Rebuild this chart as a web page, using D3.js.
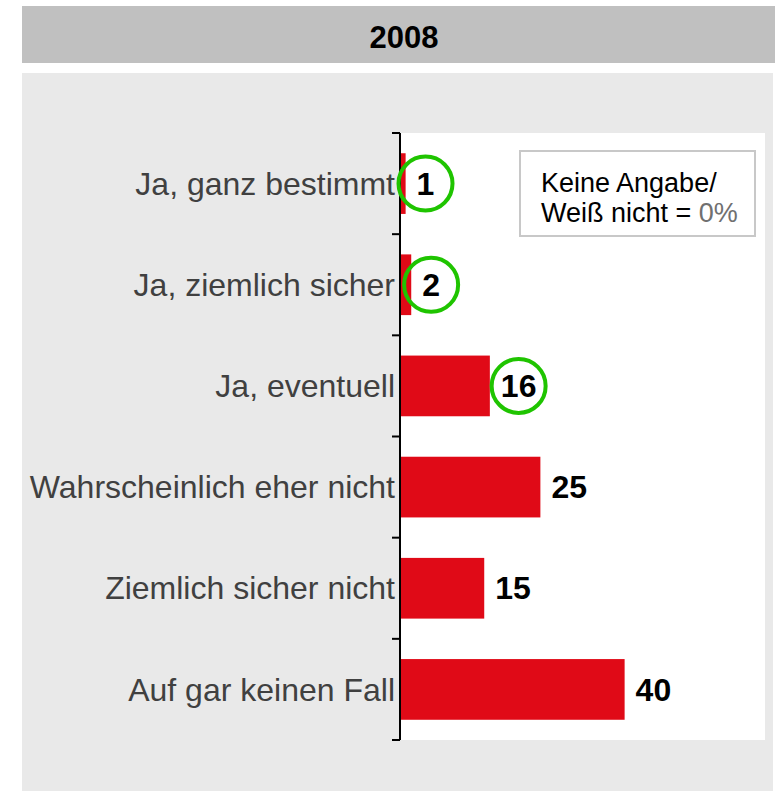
<!DOCTYPE html>
<html><head><meta charset="utf-8">
<script src="https://cdn.jsdelivr.net/npm/d3@7"></script>
<style>body{margin:0;background:#fff;}svg{display:block;font-family:"Liberation Sans",Arial,sans-serif;}</style>
</head><body>
<script>
const title = "2008";
const categories = ["Ja, ganz bestimmt","Ja, ziemlich sicher","Ja, eventuell","Wahrscheinlich eher nicht","Ziemlich sicher nicht","Auf gar keinen Fall"];
const values = [1, 2, 16, 25, 15, 40];
const highlighted = [true, true, true, false, false, false];
const legendLines = ["Keine Angabe/", "Weiß nicht = "];
const legendValue = "0%";

const W = 775, H = 791;
const svg = d3.select("body").append("svg").attr("width", W).attr("height", H);

// title bar
svg.append("rect").attr("x",22).attr("y",6).attr("width",W-22).attr("height",57).attr("fill","#c0c0c0");
svg.append("text").attr("x",404).attr("y",48).attr("text-anchor","middle")
  .attr("font-size",31).attr("font-weight","bold").attr("fill","#000").text(title);

// panel
svg.append("rect").attr("x",22).attr("y",73).attr("width",751).attr("height",718).attr("fill","#e9e9e9");

const plot = {x0:400, x1:765, y0:133, y1:740};
svg.append("rect").attr("x",plot.x0).attr("y",plot.y0).attr("width",plot.x1-plot.x0).attr("height",plot.y1-plot.y0).attr("fill","#fff");

const x = d3.scaleLinear().domain([0,65]).range([plot.x0, plot.x1]);
const y = d3.scaleBand().domain(categories).range([plot.y0, plot.y1]).paddingInner(0.4).paddingOuter(0.2);
const yb = d3.scaleBand().domain(categories).range([plot.y0, plot.y1]);

// bars
svg.selectAll("rect.bar").data(categories).enter().append("rect").attr("class","bar")
  .attr("x", x(0)).attr("y", d=>y(d)).attr("height", y.bandwidth())
  .attr("width", (d,i)=>x(values[i])-x(0)).attr("fill","#e00a17");

// axis line + boundary ticks
const ticks = categories.map(c=>yb(c)).concat([plot.y1]);
svg.append("line").attr("x1",plot.x0).attr("x2",plot.x0).attr("y1",plot.y0).attr("y2",plot.y1).attr("stroke","#000").attr("stroke-width",2);
svg.selectAll("line.tk").data(ticks).enter().append("line").attr("class","tk")
  .attr("x1",plot.x0-8).attr("x2",plot.x0).attr("y1",d=>d).attr("y2",d=>d).attr("stroke","#000").attr("stroke-width",2);

// category labels
svg.selectAll("text.cat").data(categories).enter().append("text").attr("class","cat")
  .attr("x", plot.x0-5).attr("y", d=>y(d)+y.bandwidth()/2).attr("dy","0.35em")
  .attr("text-anchor","end").attr("font-size",32).attr("fill","#404040").text(d=>d);

// value labels
const lab = svg.selectAll("g.val").data(categories).enter().append("g").attr("class","val");
lab.append("text").attr("x",(d,i)=>x(values[i])+11).attr("y", d=>y(d)+y.bandwidth()/2).attr("dy","0.35em")
  .attr("font-size",32).attr("font-weight","bold").attr("fill","#000").text((d,i)=>values[i])
  .each(function(d,i){
    if(!highlighted[i]) return;
    const bb = this.getBBox();
    d3.select(this.parentNode).append("circle").attr("cx",bb.x+bb.width/2).attr("cy",y(d)+y.bandwidth()/2)
      .attr("r",27).attr("fill","none").attr("stroke","#1fc400").attr("stroke-width",4);
  });

// legend
svg.append("rect").attr("x",520).attr("y",151).attr("width",235).attr("height",85).attr("fill","#fff").attr("stroke","#c8c8c8").attr("stroke-width",2);
svg.append("text").attr("x",541).attr("y",192).attr("font-size",27).attr("fill","#000").text(legendLines[0]);
const t2 = svg.append("text").attr("x",541).attr("y",222).attr("font-size",27).attr("fill","#000");
t2.append("tspan").text(legendLines[1]);
t2.append("tspan").attr("fill","#707070").text(legendValue);
</script>
</body></html>
